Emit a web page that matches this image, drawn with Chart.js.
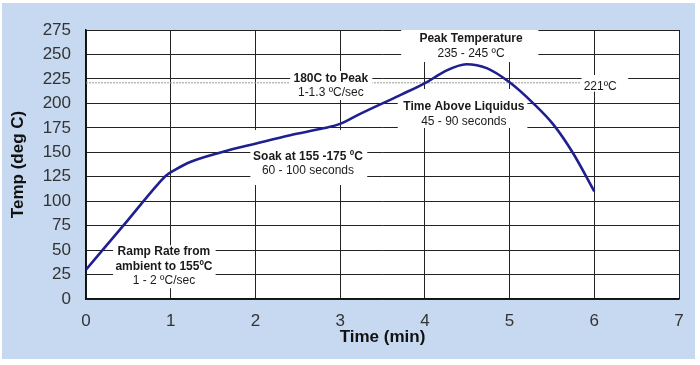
<!DOCTYPE html>
<html lang="en">
<head>
<meta charset="utf-8"/>
<title>Reflow profile</title>
<script src="https://cdn.jsdelivr.net/npm/chart.js"></script>
<style>
  html, body { margin: 0; padding: 0; background: #ffffff; }
  #wrap { width: 700px; height: 365px; }
</style>
</head>
<body>
<div id="wrap"><canvas id="myChart" width="700" height="365"></canvas></div>
<script>
// profile
var timeMin = [0, 0.45, 0.85, 0.95, 1.06, 1.23, 1.62, 2.01, 2.41, 2.8, 3.0, 3.23, 3.71, 4.02, 4.22, 4.49, 4.73, 5.0, 5.28, 5.52, 5.75, 6.0];
var tempC   = [30, 76, 117.5, 126.5, 132.5, 140, 150.5, 159, 167.5, 174.5, 179, 189, 208.5, 221.5, 232, 240, 236, 221.5, 200, 178, 149, 110];

var liquidusTemp = 221;
var liquidusEnd = 5.83;

var xTicks = [0, 1, 2, 3, 4, 5, 6, 7];
var yTicks = [0, 25, 50, 75, 100, 125, 150, 175, 200, 225, 250, 275];

// annotation boxes: [x0, x1, y0, y1] in data units, text lines centred at cx
var notes = [
  { box: [0.32, 1.53, 11, 55], cx: 0.92, lines: [
      { t: "Ramp Rate from", y: 48, b: true },
      { t: "ambient to 155ºC", y: 32.7, b: true },
      { t: "1 - 2 ºC/sec", y: 18.4, b: false } ] },
  { box: [2.41, 3.38, 203.5, 233], cx: 2.89, lines: [
      { t: "180C to Peak", y: 224.9, b: true },
      { t: "1-1.3 ºC/sec", y: 210.6, b: false } ] },
  { box: [1.94, 3.32, 116.5, 172.8], cx: 2.62, lines: [
      { t: "Soak at 155 -175 ºC", y: 145.2, b: true },
      { t: "60 - 100 seconds", y: 130.9, b: false } ] },
  { box: [3.72, 5.34, 242.3, 275], cx: 4.545, lines: [
      { t: "Peak Temperature", y: 265.8, b: true },
      { t: "235 - 245 ºC", y: 250.5, b: false } ] },
  { box: [3.68, 5.21, 174.8, 214.7], cx: 4.46, lines: [
      { t: "Time Above Liquidus", y: 196.3, b: true },
      { t: "45 - 90 seconds", y: 180.9, b: false } ] },
  { box: [5.85, 6.4, 212, 229], cx: 6.07, lines: [
      { t: "221ºC", y: 216.7, b: false } ] }
];

var fontName = "'Liberation Sans', Arial, sans-serif";

var backdrop = {
  id: 'backdrop',
  beforeDraw: function(chart) {
    var ctx = chart.ctx;
    ctx.save();
    ctx.fillStyle = '#ffffff';
    ctx.fillRect(0, 0, chart.width, chart.height);
    ctx.fillStyle = '#c6d9f0';
    ctx.fillRect(2, 3, 693, 356);
    var a = chart.chartArea;
    ctx.fillStyle = '#ffffff';
    ctx.fillRect(a.left, a.top, a.right - a.left, a.bottom - a.top);
    ctx.restore();
  },
  afterDatasetDraw: function(chart, args) {
    if (args.index !== 1) return;
    var ctx = chart.ctx;
    var xs = chart.scales.x, ys = chart.scales.y;
    ctx.save();
    notes.forEach(function(n) {
      var x0 = xs.getPixelForValue(n.box[0]), x1 = xs.getPixelForValue(n.box[1]);
      var y0 = ys.getPixelForValue(n.box[3]), y1 = ys.getPixelForValue(n.box[2]);
      ctx.fillStyle = '#ffffff';
      ctx.fillRect(x0, y0, x1 - x0, y1 - y0);
      ctx.fillStyle = '#1a1a1a';
      ctx.textAlign = 'center';
      ctx.textBaseline = 'middle';
      n.lines.forEach(function(l) {
        ctx.font = (l.b ? 'bold ' : '') + '12px ' + fontName;
        ctx.fillText(l.t, xs.getPixelForValue(n.cx), ys.getPixelForValue(l.y));
      });
    });
    ctx.restore();
  }
};

var curve = timeMin.map(function(t, i) { return { x: t, y: tempC[i] }; });
var liquidus = [{ x: 0, y: liquidusTemp }, { x: liquidusEnd, y: liquidusTemp }];

new Chart(document.getElementById('myChart'), {
  type: 'line',
  data: {
    datasets: [
      {
        label: 'Profile',
        data: curve,
        borderColor: '#1f1f8f',
        borderWidth: 2.6,
        pointRadius: 0,
        fill: false,
        cubicInterpolationMode: 'monotone',
        order: 1
      },
      {
        label: 'Liquidus',
        data: liquidus,
        borderColor: '#9a9a9a',
        borderWidth: 1,
        borderDash: [2, 1],
        pointRadius: 0,
        fill: false,
        order: 2
      }
    ]
  },
  options: {
    responsive: false,
    animation: false,
    devicePixelRatio: 1,
    layout: { padding: { left: 0, right: 21, top: 30, bottom: 10 } },
    plugins: { legend: { display: false }, tooltip: { enabled: false } },
    scales: {
      x: {
        type: 'linear',
        min: 0, max: 7,
        afterBuildTicks: function(s) { s.ticks = xTicks.map(function(v) { return { value: v }; }); },
        afterFit: function(s) { s.height = 56; },
        grid: { color: '#222222', lineWidth: 1, drawTicks: false },
        border: { color: '#111111', width: 1.5 },
        ticks: { color: '#333333', padding: 12, font: { family: fontName, size: 17 } },
        title: { display: true, text: 'Time (min)', color: '#111111',
                 padding: { top: 0, bottom: 7 },
                 font: { family: fontName, size: 17, weight: 'bold' } }
      },
      y: {
        min: 0, max: 275,
        afterBuildTicks: function(s) { s.ticks = yTicks.map(function(v) { return { value: v }; }); },
        afterFit: function(s) { s.width = 86; },
        grid: { color: '#222222', lineWidth: 1, drawTicks: false },
        border: { color: '#111111', width: 1.5 },
        ticks: { color: '#333333', padding: 15, font: { family: fontName, size: 17 } },
        title: { display: true, text: 'Temp (deg C)', color: '#111111',
                 padding: { top: 8, bottom: 0 },
                 font: { family: fontName, size: 17, weight: 'bold' } }
      }
    }
  },
  plugins: [backdrop]
});
</script>
</body>
</html>
